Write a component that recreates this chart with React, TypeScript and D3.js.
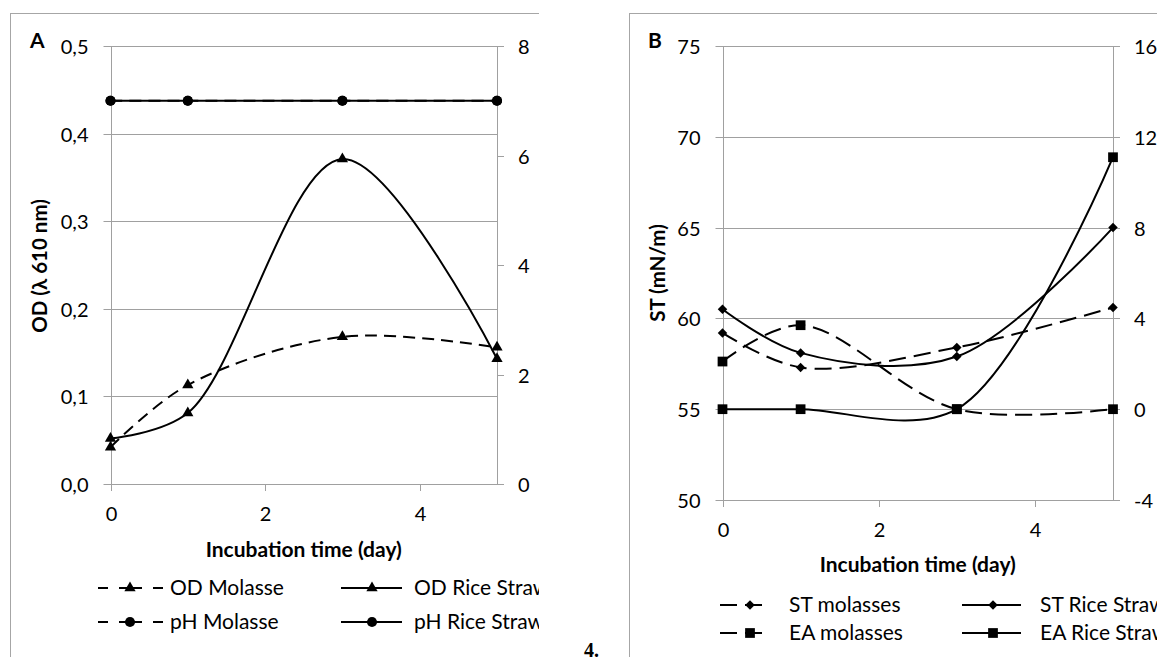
import * as d3 from 'd3';
import { useEffect, useRef } from 'react';

// incubation days
const days = [0, 1, 3, 5];

// panel A
const odMolasse = [0.042, 0.113, 0.168, 0.156];
const odRiceStraw = [0.052, 0.081, 0.371, 0.143];
const phMolasse = [7, 7, 7, 7];
const phRiceStraw = [7, 7, 7, 7];
const odTicks = [0, 0.1, 0.2, 0.3, 0.4, 0.5];
const phTicks = [0, 2, 4, 6, 8];

// panel B
const stMolasses = [59.2, 57.3, 58.4, 60.6];
const stRiceStraw = [60.5, 58.1, 57.9, 65.0];
const eaMolasses = [2.1, 3.7, 0, 0];
const eaRiceStraw = [0, 0, 0, 11.1];
const stTicks = [50, 55, 60, 65, 70, 75];
const eaTicks = [-4, 0, 4, 8, 12, 16];

const dayTicks = [0, 2, 4];

const FONT = 'Lato, "Open Sans", sans-serif';
const GRID = '#a0a0a0';

const App = () => {
  const ref = useRef(null);

  useEffect(() => {
    const svg = d3.select(ref.current);
    svg.selectAll('*').remove();

    const defs = svg.append('defs');
    defs.append('clipPath').attr('id', 'clipA').append('rect')
      .attr('x', 0).attr('y', 0).attr('width', 539).attr('height', 657);
    defs.append('clipPath').attr('id', 'clipB').append('rect')
      .attr('x', 560).attr('y', 0).attr('width', 597).attr('height', 657);

    const marker = (g, type, x, y) => {
      let path;
      if (type === 'triangle') path = d3.symbol().type(d3.symbolTriangle).size(55)();
      if (type === 'circle') path = d3.symbol().type(d3.symbolCircle).size(80)();
      if (type === 'square') path = d3.symbol().type(d3.symbolSquare).size(95)();
      if (type === 'diamond') path = d3.symbol().type(d3.symbolSquare).size(45)();
      g.append('path')
        .attr('d', path)
        .attr('fill', '#000')
        .attr('transform', 'translate(' + x + ',' + y + ')' + (type === 'diamond' ? ' rotate(45)' : ''));
    };

    const drawPanel = (cfg) => {
      const g = svg.append('g').attr('clip-path', 'url(#' + cfg.clip + ')');
      const x = d3.scaleLinear().domain([0, 5]).range([cfg.left, cfg.right]);
      const yL = d3.scaleLinear().domain(cfg.yLDomain).range([cfg.bottom, cfg.top]);
      const yR = d3.scaleLinear().domain(cfg.yRDomain).range([cfg.bottom, cfg.top]);

      // frame
      g.append('line').attr('x1', cfg.frameX).attr('x2', cfg.frameRight)
        .attr('y1', 13.5).attr('y2', 13.5).attr('stroke', '#a6a6a6');
      g.append('line').attr('x1', cfg.frameX + 0.5).attr('x2', cfg.frameX + 0.5)
        .attr('y1', 13).attr('y2', 657).attr('stroke', '#a6a6a6');

      // gridlines and left ticks
      cfg.yLTicks.forEach((t) => {
        const yy = Math.round(yL(t)) + 0.5;
        g.append('line').attr('x1', cfg.left - 7).attr('x2', cfg.right)
          .attr('y1', yy).attr('y2', yy).attr('stroke', GRID);
        g.append('text').attr('x', cfg.left - 22).attr('y', yy).attr('dy', '0.35em')
          .attr('text-anchor', 'end').attr('font-family', FONT).attr('font-size', 20)
          .attr('fill', '#000').text(cfg.fmtL(t));
      });
      // right ticks
      cfg.yRTicks.forEach((t) => {
        const yy = Math.round(yR(t)) + 0.5;
        g.append('line').attr('x1', cfg.right).attr('x2', cfg.right + 7)
          .attr('y1', yy).attr('y2', yy).attr('stroke', GRID);
        g.append('text').attr('x', cfg.right + 21).attr('y', yy).attr('dy', '0.35em')
          .attr('text-anchor', 'start').attr('font-family', FONT).attr('font-size', 20)
          .attr('fill', '#000').text(t);
      });
      // axis lines
      g.append('line').attr('x1', Math.round(cfg.left) + 0.5).attr('x2', Math.round(cfg.left) + 0.5)
        .attr('y1', cfg.top).attr('y2', cfg.bottom + 7).attr('stroke', GRID);
      g.append('line').attr('x1', Math.round(cfg.right) + 0.5).attr('x2', Math.round(cfg.right) + 0.5)
        .attr('y1', cfg.top).attr('y2', cfg.bottom).attr('stroke', GRID);
      // x ticks
      dayTicks.forEach((t) => {
        const xx = Math.round(x(t)) + 0.5;
        g.append('line').attr('x1', xx).attr('x2', xx)
          .attr('y1', cfg.bottom).attr('y2', cfg.bottom + 7).attr('stroke', GRID);
        g.append('text').attr('x', xx).attr('y', cfg.xLabelY).attr('dy', '0.35em')
          .attr('text-anchor', 'middle').attr('font-family', FONT).attr('font-size', 20)
          .attr('fill', '#000').text(t);
      });

      // axis titles
      g.append('text').attr('x', (cfg.left + cfg.right) / 2).attr('y', cfg.xTitleY).attr('dy', '0.35em')
        .attr('text-anchor', 'middle').attr('font-family', FONT).attr('font-size', 21)
        .attr('font-weight', 'bold').text('Incubation time (day)');
      g.append('text')
        .attr('transform', 'translate(' + cfg.yTitleX + ',' + cfg.yTitleY + ') rotate(-90)')
        .attr('dy', '0.35em').attr('text-anchor', 'middle').attr('font-family', FONT)
        .attr('font-size', 20.5).attr('font-weight', 'bold').text(cfg.yTitle);
      g.append('text').attr('x', cfg.labelX).attr('y', 48).attr('font-family', FONT)
        .attr('font-size', 21).attr('font-weight', 'bold').text(cfg.label);

      // series
      cfg.series.forEach((s) => {
        const yS = s.axis === 'L' ? yL : yR;
        const line = d3.line().x((d, i) => x(days[i])).y((d) => yS(d)).curve(d3.curveCatmullRom.alpha(0.5));
        g.append('path').datum(s.values).attr('d', line).attr('fill', 'none')
          .attr('stroke', '#000').attr('stroke-width', 2)
          .attr('stroke-dasharray', s.dashed ? cfg.dash : null);
        s.values.forEach((v, i) => marker(g, s.marker, x(days[i]), yS(v)));
      });

      // legend
      cfg.series.forEach((s, i) => {
        const p = cfg.legend[i];
        g.append('line').attr('x1', p.x1).attr('x2', p.x2).attr('y1', p.y).attr('y2', p.y)
          .attr('stroke', '#000').attr('stroke-width', 2)
          .attr('stroke-dasharray', s.dashed ? cfg.legendDash : null);
        marker(g, s.marker, p.m, p.y);
        g.append('text').attr('x', p.tx).attr('y', p.y).attr('dy', '0.35em')
          .attr('font-family', FONT).attr('font-size', 21).attr('fill', '#000').text(s.name);
      });
    };

    drawPanel({
      clip: 'clipA', label: 'A', labelX: 30,
      frameX: 10, frameRight: 539,
      left: 110.5, right: 497, top: 46, bottom: 484,
      yLDomain: [0, 0.5], yRDomain: [0, 8],
      yLTicks: odTicks, yRTicks: phTicks,
      fmtL: (t) => d3.format('.1f')(t).replace('.', ','),
      xLabelY: 514, xTitleY: 550,
      yTitle: 'OD (λ 610 nm)', yTitleX: 40, yTitleY: 266,
      dash: '12,7', legendDash: '10,11,23,11,10',
      series: [
        { name: 'OD Molasse', values: odMolasse, axis: 'L', dashed: true, marker: 'triangle' },
        { name: 'OD Rice Straw', values: odRiceStraw, axis: 'L', dashed: false, marker: 'triangle' },
        { name: 'pH Molasse', values: phMolasse, axis: 'R', dashed: true, marker: 'circle' },
        { name: 'pH Rice Straw', values: phRiceStraw, axis: 'R', dashed: false, marker: 'circle' },
      ],
      legend: [
        { x1: 98, x2: 163, m: 130, tx: 170, y: 588 },
        { x1: 341, x2: 402, m: 372, tx: 414, y: 588 },
        { x1: 98, x2: 163, m: 130, tx: 170, y: 622 },
        { x1: 341, x2: 402, m: 372, tx: 414, y: 622 },
      ],
    });

    drawPanel({
      clip: 'clipB', label: 'B', labelX: 648,
      frameX: 629, frameRight: 1157,
      left: 722.5, right: 1113, top: 46, bottom: 500,
      yLDomain: [50, 75], yRDomain: [-4, 16],
      yLTicks: stTicks, yRTicks: eaTicks,
      fmtL: (t) => String(t),
      xLabelY: 530, xTitleY: 565,
      yTitle: 'ST (mN/m)', yTitleX: 658, yTitleY: 273,
      dash: '17,8', legendDash: '17,8',
      series: [
        { name: 'ST molasses', values: stMolasses, axis: 'L', dashed: true, marker: 'diamond' },
        { name: 'ST Rice Straw', values: stRiceStraw, axis: 'L', dashed: false, marker: 'diamond' },
        { name: 'EA molasses', values: eaMolasses, axis: 'R', dashed: true, marker: 'square' },
        { name: 'EA Rice Straw', values: eaRiceStraw, axis: 'R', dashed: false, marker: 'square' },
      ],
      legend: [
        { x1: 720, x2: 763, m: 750, tx: 789, y: 605 },
        { x1: 962, x2: 1021, m: 993, tx: 1040, y: 605 },
        { x1: 720, x2: 763, m: 750, tx: 789, y: 633 },
        { x1: 962, x2: 1021, m: 993, tx: 1040, y: 633 },
      ],
    });

    svg.append('text').attr('x', 584).attr('y', 657).attr('font-family', '"Liberation Serif", serif')
      .attr('font-size', 20).attr('font-weight', 'bold').text('4.');
  }, []);

  return (
    <svg ref={ref} width={1157} height={657}
      style={{ position: 'absolute', left: 0, top: 0, background: '#fff' }} />
  );
};

export default App;
